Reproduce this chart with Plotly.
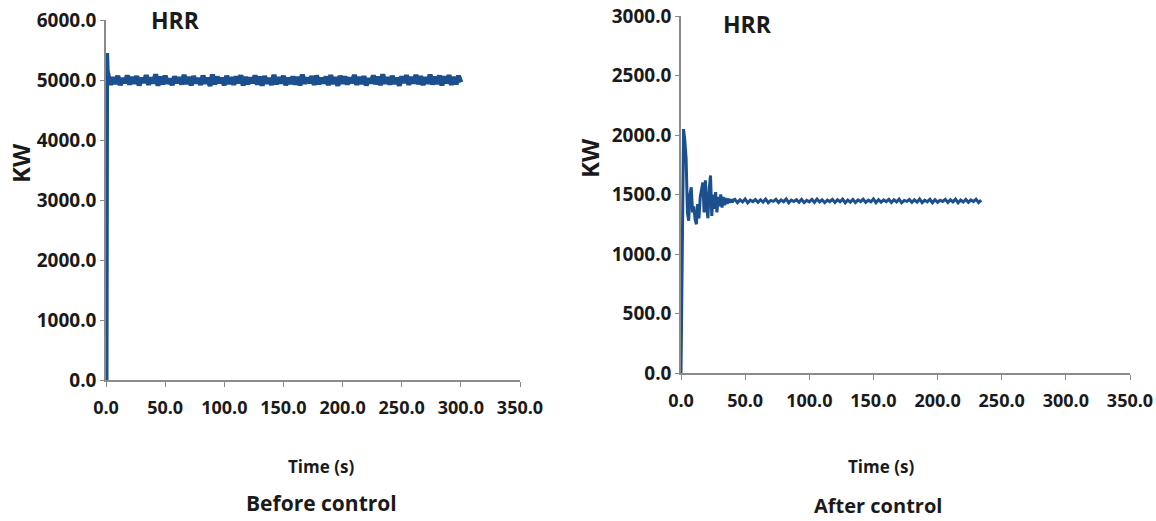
import plotly.graph_objects as go

W, H = 1156, 521

# ---------------- data ----------------
before_time = [0, 0.5, 1,
    2, 4, 6, 8, 10, 12, 14, 16, 18, 20,
    22, 24, 26, 28, 30, 32, 34, 36, 38, 40,
    42, 44, 46, 48, 50, 52, 54, 56, 58, 60,
    62, 64, 66, 68, 70, 72, 74, 76, 78, 80,
    82, 84, 86, 88, 90, 92, 94, 96, 98, 100,
    102, 104, 106, 108, 110, 112, 114, 116, 118, 120,
    122, 124, 126, 128, 130, 132, 134, 136, 138, 140,
    142, 144, 146, 148, 150, 152, 154, 156, 158, 160,
    162, 164, 166, 168, 170, 172, 174, 176, 178, 180,
    182, 184, 186, 188, 190, 192, 194, 196, 198, 200,
    202, 204, 206, 208, 210, 212, 214, 216, 218, 220,
    222, 224, 226, 228, 230, 232, 234, 236, 238, 240,
    242, 244, 246, 248, 250, 252, 254, 256, 258, 260,
    262, 264, 266, 268, 270, 272, 274, 276, 278, 280,
    282, 284, 286, 288, 290, 292, 294, 296, 298, 300]
before_hrr = [0, 5450, 5150,
    5060, 4920, 5045, 4935, 5070, 4915, 5030, 4950, 5075, 4925,
    5050, 4940, 5065, 4910, 5035, 4955, 5080, 4920, 5040, 4945,
    5095, 4905, 5055, 4930, 5070, 4940, 5025, 4915, 5060, 4950,
    5045, 4925, 5085, 4935, 5050, 4910, 5065, 4945, 5030, 4920,
    5075, 4940, 5040, 4900, 5090, 4930, 5055, 4950, 5035, 4915,
    5070, 4935, 5045, 4920, 5060, 4945, 5080, 4910, 5050, 4930,
    5040, 4950, 5075, 4925, 5055, 4905, 5065, 4940, 5030, 4920,
    5085, 4930, 5045, 4945, 5070, 4915, 5035, 4935, 5060, 4925,
    5050, 4910, 5090, 4940, 5040, 4950, 5065, 4920, 5075, 4930,
    5035, 4945, 5055, 4915, 5080, 4935, 5045, 4905, 5070, 4940,
    5060, 4925, 5040, 4950, 5085, 4920, 5050, 4935, 5065, 4910,
    5030, 4945, 5075, 4930, 5055, 4915, 5095, 4940, 5045, 4925,
    5070, 4935, 5040, 4905, 5060, 4950, 5080, 4920, 5050, 4945,
    5085, 4930, 5065, 4915, 5045, 4940, 5090, 4925, 5055, 4935,
    5075, 4910, 5060, 4945, 5080, 4920, 5050, 4930, 5070, 4960]

after_time = [0, 1, 2, 3, 4, 5, 6, 7, 8, 9,
    10, 11, 12, 13, 14, 15, 16, 17, 18, 19,
    20, 21, 22, 23, 24, 25, 26, 27, 28, 29,
    30, 31, 32, 33, 34, 35, 36, 37, 38, 39,
    40, 41,
    42, 44, 46, 48, 50, 52, 54, 56, 58, 60,
    62, 64, 66, 68, 70, 72, 74, 76, 78, 80,
    82, 84, 86, 88, 90, 92, 94, 96, 98, 100,
    102, 104, 106, 108, 110, 112, 114, 116, 118, 120,
    122, 124, 126, 128, 130, 132, 134, 136, 138, 140,
    142, 144, 146, 148, 150, 152, 154, 156, 158, 160,
    162, 164, 166, 168, 170, 172, 174, 176, 178, 180,
    182, 184, 186, 188, 190, 192, 194, 196, 198, 200,
    202, 204, 206, 208, 210, 212, 214, 216, 218, 220,
    222, 224, 226, 228, 230, 232, 234]
after_hrr = [0, 900, 2050, 1950, 1800, 1350, 1280, 1500, 1560, 1350,
    1400, 1290, 1250, 1420, 1300, 1480, 1550, 1600, 1350, 1620,
    1400, 1300, 1550, 1660, 1320, 1500, 1380, 1520, 1350, 1480,
    1400, 1500, 1390, 1480, 1410, 1470, 1420, 1465, 1430, 1460,
    1435, 1455,
    1460, 1432, 1455, 1438, 1462, 1430, 1452, 1440, 1458, 1434,
    1456, 1436, 1461, 1431, 1450, 1442, 1459, 1433, 1454, 1439,
    1463, 1430, 1453, 1441, 1457, 1435, 1460, 1432, 1451, 1438,
    1458, 1434, 1462, 1437, 1455, 1431, 1452, 1440, 1459, 1433,
    1456, 1439, 1461, 1430, 1453, 1436, 1458, 1432, 1455, 1441,
    1460, 1434, 1452, 1438, 1463, 1431, 1457, 1435, 1454, 1440,
    1459, 1433, 1456, 1437, 1461, 1430, 1450, 1442, 1458, 1434,
    1455, 1436, 1462, 1432, 1453, 1439, 1460, 1431, 1457, 1435,
    1452, 1441, 1459, 1433, 1456, 1438, 1461, 1430, 1454, 1437,
    1458, 1434, 1455, 1440, 1460, 1432, 1453]

x_ticks = [0, 50, 100, 150, 200, 250, 300, 350]
x_tick_text = ["0.0", "50.0", "100.0", "150.0", "200.0", "250.0", "300.0", "350.0"]
before_y_ticks = [0, 1000, 2000, 3000, 4000, 5000, 6000]
before_y_text = ["0.0", "1000.0", "2000.0", "3000.0", "4000.0", "5000.0", "6000.0"]
after_y_ticks = [0, 500, 1000, 1500, 2000, 2500, 3000]
after_y_text = ["0.0", "500.0", "1000.0", "1500.0", "2000.0", "2500.0", "3000.0"]

# ---------------- figure ----------------
LINE = "#1c4f8e"
AX = "#8a8a8a"
TXT = "#1a1a1a"
FONT = "Open Sans"


def px(x):
    return x / W


def py(y):
    return 1 - y / H


fig = go.Figure()
fig.add_trace(go.Scatter(x=before_time, y=before_hrr, mode="lines",
                         line=dict(color=LINE, width=5), xaxis="x", yaxis="y",
                         showlegend=False))
fig.add_trace(go.Scatter(x=after_time, y=after_hrr, mode="lines",
                         line=dict(color=LINE, width=3), xaxis="x2", yaxis="y2",
                         showlegend=False))

tickfont = dict(family=FONT, size=18, color=TXT, weight="bold")
common_x = dict(range=[0, 350], tickvals=x_ticks, ticktext=x_tick_text,
                showline=True, linecolor=AX, linewidth=1.5, ticks="outside",
                ticklen=5, tickcolor=AX, tickwidth=1.2, showgrid=False,
                zeroline=False, tickfont=tickfont, ticklabelstandoff=6,
                automargin=False)
common_y = dict(showline=True, linecolor=AX, linewidth=1.5, ticks="outside",
                ticklen=4, tickcolor=AX, tickwidth=1.2, showgrid=False,
                zeroline=False, automargin=False,
                tickfont=dict(family=FONT, size=19, color=TXT, weight="bold"))

fig.update_layout(
    width=W, height=H,
    margin=dict(l=0, r=0, t=0, b=0),
    paper_bgcolor="white", plot_bgcolor="white",
    xaxis=dict(domain=[px(106), px(520)], anchor="y", **common_x),
    yaxis=dict(domain=[py(380), py(20)], anchor="x", range=[0, 6000],
               tickvals=before_y_ticks, ticktext=before_y_text, **common_y),
    xaxis2=dict(domain=[px(681), px(1130)], anchor="y2", **common_x),
    yaxis2=dict(domain=[py(373), py(16)], anchor="x2", range=[0, 3000],
                tickvals=after_y_ticks, ticktext=after_y_text, **common_y),
)

def label(text, x, y, size, angle=0, family=FONT):
    fig.add_annotation(text=text, x=px(x), y=py(y), xref="paper", yref="paper",
                       showarrow=False, textangle=angle, xanchor="center",
                       yanchor="middle",
                       font=dict(family=family, size=size, color=TXT, weight="bold"))

label("HRR", 175, 20, 23)
label("HRR", 747, 24, 23)
label("KW", 20, 163, 24, -90)
label("KW", 589, 158, 24, -90)
label("Time (s)", 321, 466, 17)
label("Time (s)", 881, 466, 17)
label("Before control", 321, 503, 21)
label("After control", 878, 505, 20)

fig.write_html("out.html", config={"displayModeBar": False},
               post_script="document.body.style.margin='0';document.body.style.overflow='hidden';")
